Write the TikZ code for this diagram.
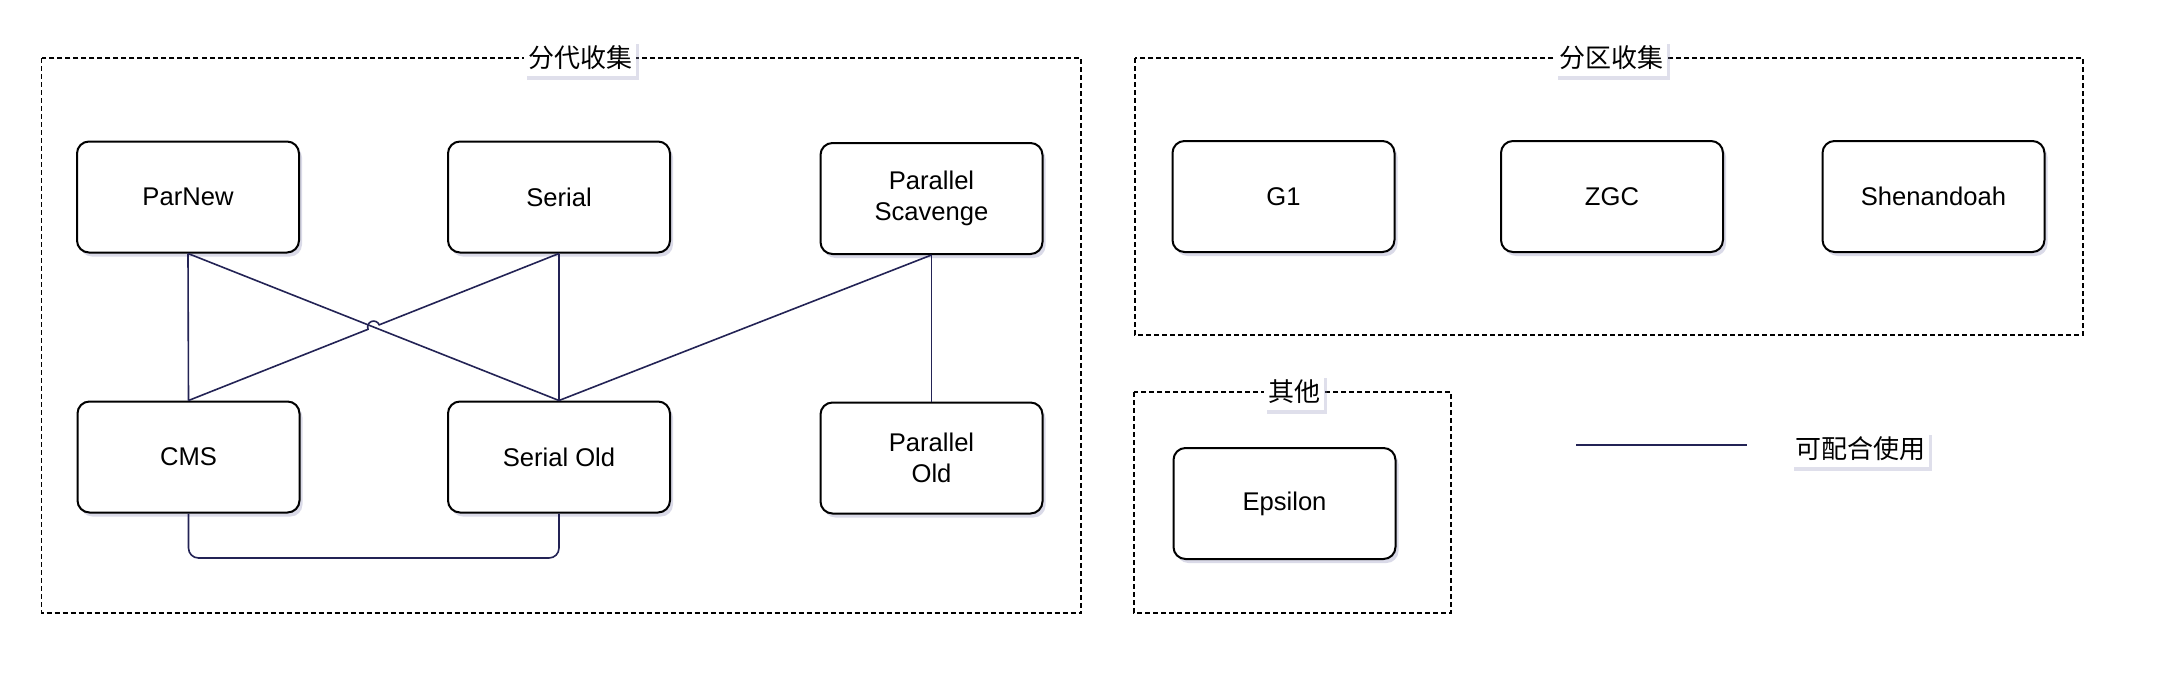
\documentclass[tikz,border=0pt]{standalone}
\usepackage{fontspec}
\setmainfont{Liberation Sans}
\newfontfamily\cjk{Noto Sans CJK SC}
\usetikzlibrary{shadows,calc}
\definecolor{edgec}{RGB}{35,35,85}
\definecolor{shadowc}{RGB}{150,150,190}
\begin{document}
\begin{tikzpicture}[x=0.5pt,y=0.5pt,
  gcbox/.style={draw=black, line width=1pt, rounded corners=6pt, fill=white,
    minimum width=111pt, minimum height=55.5pt, align=center,
    font=\fontsize{12.8}{15.5}\selectfont,
    drop shadow={shadow xshift=1.5pt, shadow yshift=-2pt, fill=shadowc, opacity=0.35}},
  grp/.style={draw=black, line width=0.8pt, dash pattern=on 2.5pt off 1.5pt},
  grplabel/.style={fill=white, inner xsep=2pt, inner ysep=3pt,
    font=\cjk\fontsize{13}{15}\selectfont,
    drop shadow={shadow xshift=1.5pt, shadow yshift=-2pt, fill=shadowc, opacity=0.3}},
  edge/.style={draw=edgec, line width=0.8pt}
]
\useasboundingbox[fill=white] (0,0) rectangle (2170,-686);

% groups
\draw[grp] (41.5,-58) rectangle (1081,-613);
\draw[grp] (1135,-58) rectangle (2083,-335);
\draw[grp] (1134,-392) rectangle (1451,-613);

\node[grplabel] (lg1) at (580,-58) {分代收集};
\node[grplabel] (lg2) at (1611,-58) {分区收集};
\node[grplabel] (lg3) at (1294,-392) {其他};

% collectors
\node[gcbox] (pn)  at (188,-197) {ParNew};
\node[gcbox] (se)  at (559,-197) {Serial};
\node[gcbox] (ps)  at (931.5,-198.5) {Parallel\\Scavenge};
\node[gcbox] (cms) at (188.5,-457) {CMS};
\node[gcbox] (so)  at (559,-457) {Serial Old};
\node[gcbox] (po)  at (931.5,-458) {Parallel\\Old};

\node[gcbox] (g1)  at (1283.5,-196.5) {G1};
\node[gcbox] (zgc) at (1612,-196.5) {ZGC};
\node[gcbox] (she) at (1933.5,-196.5) {Shenandoah};
\node[gcbox] (eps) at (1284.5,-503.5) {Epsilon};

% connectors
\draw[edge] (pn.south) -- (cms.north);
\draw[edge] (pn.south) -- (so.north);
\coordinate (X) at (intersection of pn.south--so.north and se.south--cms.north);
\draw[edge] (cms.north) -- ($(X)!3pt!(cms.north)$)
  arc[start angle=201.77, end angle=21.77, radius=3pt] -- (se.south);
\draw[edge] (se.south) -- (so.north);
\draw[edge] (ps.south) -- (so.north);
\draw[edge] (ps.south) -- (po.north);
\draw[edge, rounded corners=5pt] (cms.south) -- (cms.south |- 0,-558) -| (so.south);

% legend
\coordinate (la) at (1576,-445);
\coordinate (lb) at (1747,-445);
\draw[edge, line width=1.2pt] (la) -- (lb);
\node[grplabel] (leg) at (1860,-449) {可配合使用};
\end{tikzpicture}
\end{document}
